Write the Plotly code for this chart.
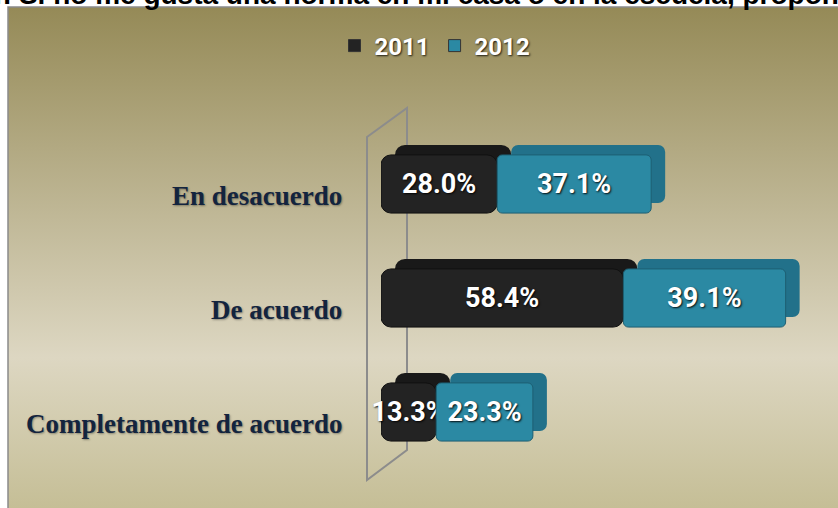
import base64
import plotly.graph_objects as go

# ---------------- data ----------------
categories = ["En desacuerdo", "De acuerdo", "Completamente de acuerdo"]
v2011 = [28.0, 58.4, 13.3]
v2012 = [37.1, 39.1, 23.3]
series_names = ["2011", "2012"]
title_text = "r. Si no me gusta una norma en mi casa o en la escuela, propongo"

# ---------------- geometry ----------------
W, H = 838, 508
L, R, T, B = 381, 0, 127, 39
pw, ph = W - L - R, H - T - B
PX_PER_PCT = 4.15
xmax = pw / PX_PER_PCT
cat_px = ph / 3.0

def px_x(px):
    return (px - L) / pw

def px_y(py):
    return (H - B - py) / ph

bar_w = 0.51
dx = 14 / PX_PER_PCT      # depth to the right (data units)
dy = 10 / cat_px          # depth upward (category units)

black_front = "#232323"
black_back = "#191919"
teal_front = "#2b89a3"
teal_back = "#22718a"

label_font = dict(family="Roboto, sans-serif", size=27, color="white", weight="bold",
                  shadow="1px 1px 2px rgba(0,0,0,0.9)")

fig = go.Figure()

base2012 = v2011
# back (depth) layers
fig.add_trace(go.Bar(y=categories, x=v2011, base=[dx] * len(v2011), orientation="h",
                     width=bar_w, offset=-bar_w / 2 - dy,
                     marker=dict(color=black_back, cornerradius=10, line=dict(width=0)),
                     showlegend=False, hoverinfo="skip"))
fig.add_trace(go.Bar(y=categories, x=v2011, base=[0] * len(v2011), orientation="h",
                     width=bar_w, offset=-bar_w / 2, name=series_names[0],
                     marker=dict(color=black_front, cornerradius=10,
                                 line=dict(width=1, color="#111111")),
                     texttemplate="%{x:.1f}%", textposition="inside",
                     insidetextanchor="middle", textangle=0, constraintext="none",
                     insidetextfont=label_font, cliponaxis=False, showlegend=False))
fig.add_trace(go.Bar(y=categories, x=v2012, base=[b + dx for b in base2012], orientation="h",
                     width=bar_w, offset=-bar_w / 2 - dy,
                     marker=dict(color=teal_back, cornerradius=7, line=dict(width=0)),
                     showlegend=False, hoverinfo="skip"))
fig.add_trace(go.Bar(y=categories, x=v2012, base=base2012, orientation="h",
                     width=bar_w, offset=-bar_w / 2, name=series_names[1],
                     marker=dict(color=teal_front, cornerradius=5,
                                 line=dict(width=1, color="#1d5f73")),
                     texttemplate="%{x:.1f}%", textposition="inside",
                     insidetextanchor="middle", textangle=0, constraintext="none",
                     insidetextfont=label_font, cliponaxis=False, showlegend=False))

# legend entries (square swatches)
for name, col in zip(series_names, [black_front, teal_front]):
    fig.add_trace(go.Bar(y=[None], x=[None], orientation="h", name=name,
                         marker=dict(color=col, line=dict(width=1, color="#333333")),
                         showlegend=True, hoverinfo="skip"))

# background gradient (chart area)
svg = ('<svg xmlns="http://www.w3.org/2000/svg" width="100" height="100" preserveAspectRatio="none">'
       '<defs><linearGradient id="g" x1="0" y1="0" x2="0" y2="1">'
       '<stop offset="0" stop-color="#958a57"/>'
       '<stop offset="0.70" stop-color="#ddd7c2"/>'
       '<stop offset="1" stop-color="#c5be96"/>'
       '</linearGradient></defs><rect width="100" height="100" fill="url(#g)"/></svg>')
uri = "data:image/svg+xml;base64," + base64.b64encode(svg.encode()).decode()
fig.add_layout_image(dict(source=uri, xref="paper", yref="paper",
                          x=px_x(8), y=px_y(7), sizex=px_x(W) - px_x(8),
                          sizey=px_y(7) - px_y(H), xanchor="left", yanchor="top",
                          sizing="stretch", layer="below"))

# chart area border
fig.add_shape(type="rect", xref="paper", yref="paper", x0=px_x(8), x1=px_x(W + 2),
              y0=px_y(H + 2), y1=px_y(7), line=dict(color="#8a8a8a", width=1.5),
              fillcolor="rgba(0,0,0,0)", layer="below")

# 3D wall (decorative)
wall = "M {a},{b} L {c},{d} L {c},{e} L {a},{f} Z".format(
    a=px_x(367), b=px_y(137), c=px_x(407), d=px_y(108), e=px_y(450), f=px_y(480))
fig.add_shape(type="path", xref="paper", yref="paper", path=wall,
              line=dict(color="#8c8c8c", width=2), fillcolor="rgba(0,0,0,0)", layer="below")

# category labels
for c in categories:
    fig.add_annotation(text=c, xref="paper", yref="y", x=px_x(344), y=c,
                       xanchor="right", yanchor="middle", yshift=-12, showarrow=False,
                       font=dict(family="Liberation Serif, DejaVu Serif, serif", size=27,
                                 color="#13243e", weight="bold",
                                 shadow="1px 1px 2px rgba(0,0,0,0.35)"))

# cut-off title at the very top
fig.add_annotation(text=title_text, xref="paper", yref="paper", x=px_x(-8), y=px_y(-6),
                   xanchor="left", yanchor="middle", showarrow=False,
                   font=dict(family="Liberation Sans, Arial, sans-serif", size=28,
                             color="black", weight="bold"))

fig.update_layout(
    width=W, height=H,
    margin=dict(l=L, r=R, t=T, b=B, pad=0),
    paper_bgcolor="white",
    plot_bgcolor="rgba(0,0,0,0)",
    barmode="overlay",
    showlegend=True,
    uniformtext=dict(minsize=27, mode="show"),
    legend=dict(orientation="h", x=px_x(435), xanchor="center", y=px_y(46),
                yanchor="middle", bgcolor="rgba(0,0,0,0)", itemwidth=30,
                traceorder="normal",
                font=dict(family="Roboto, sans-serif", size=24, color="white",
                          weight="bold", shadow="1px 1px 2px rgba(0,0,0,0.8)")),
    xaxis=dict(range=[0, xmax], visible=False, fixedrange=True),
    yaxis=dict(type="category", categoryorder="array", categoryarray=categories,
               range=[2.5, -0.5], showticklabels=False, showgrid=False,
               zeroline=False, showline=False, ticks="", fixedrange=True),
)

fig.write_html("out.html", config={"displayModeBar": False},
               post_script="document.body.style.margin='0';document.body.style.overflow='hidden';")
